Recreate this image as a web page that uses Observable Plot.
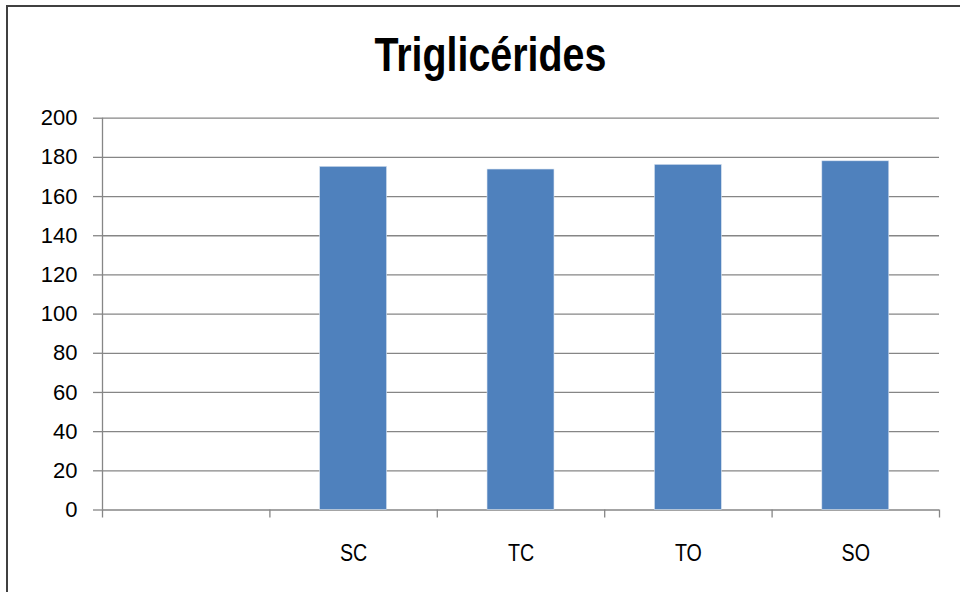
<!DOCTYPE html>
<html>
<head>
<meta charset="utf-8">
<script src="https://cdn.jsdelivr.net/npm/d3@7"></script>
<script src="https://cdn.jsdelivr.net/npm/@observablehq/plot@0.6"></script>
<style>
  html, body { margin: 0; padding: 0; background: #fff; overflow: hidden; width: 960px; height: 592px; }
  #frame { position: absolute; left: 6px; top: 5px; width: 1000px; height: 700px; border-left: 2px solid #404040; border-top: 2px solid #404040; }
  #title { position: absolute; left: 7px; width: 964px; top: 25px; text-align: center;
           font-family: "Liberation Sans", Arial, sans-serif;
           font-weight: bold; font-size: 48px; color: #000; line-height: 60px;
           transform: scaleX(0.82); transform-origin: 489.5px 0; }
  #chart { position: absolute; left: 0; top: 100px; }
</style>
</head>
<body>
<div id="frame"></div>
<div id="title">Triglicérides</div>
<div id="chart"></div>
<script>
const categories = ["", "SC", "TC", "TO", "SO"];
const values = [null, 175.2, 173.8, 176.2, 178.0];
const yTicks = [0, 20, 40, 60, 80, 100, 120, 140, 160, 180, 200];

const data = categories.map((c, i) => ({i, cat: c, value: values[i]}));
const bars = data.filter(d => d.value != null);
const boundaries = d3.range(categories.length + 1);
const centers = categories.map((c, i) => i + 0.5);

const gray = "#868686";

const chart = Plot.plot({
  width: 960,
  height: 492,
  marginLeft: 102,
  marginRight: 21,
  marginTop: 17.7,
  marginBottom: 82.5,
  x: {type: "linear", domain: [0, categories.length]},
  y: {domain: [0, 200]},
  style: {background: "transparent"},
  marks: [
    Plot.ruleY(yTicks, {stroke: gray, strokeWidth: 1.3, strokeOpacity: 1}),
    Plot.rectY(bars, {x1: d => d.i + 0.3, x2: d => d.i + 0.7, y: "value", fill: "#4f81bd", stroke: "#dbe5f1", strokeWidth: 0.6}),
    Plot.ruleX([0], {stroke: gray, strokeWidth: 1.3}),
    Plot.axisY({ticks: yTicks, tickSize: 9, tickPadding: 16, stroke: gray, strokeWidth: 1.3,
      fontSize: 22, fill: "#000", label: null,
      fontFamily: "'Liberation Sans', Arial, sans-serif"}),
    Plot.axisX({ticks: boundaries, tickSize: 8, tickFormat: () => "", stroke: gray, strokeWidth: 1.3, label: null}),
    Plot.axisX({ticks: centers, tickSize: 0, tickPadding: 34, tickFormat: d => categories[Math.floor(d)],
      fontSize: 24, fill: "#000", label: null,
      fontFamily: "'Liberation Sans', Arial, sans-serif"})
  ]
});
// condense category labels (narrow face like the original)
d3.select(chart).selectAll('g[aria-label="x-axis tick label"] text').each(function() {
  const t = this.getAttribute("transform") || "";
  this.setAttribute("transform", t + " scale(0.82,1)");
});
document.getElementById("chart").appendChild(chart);
</script>
</body>
</html>
